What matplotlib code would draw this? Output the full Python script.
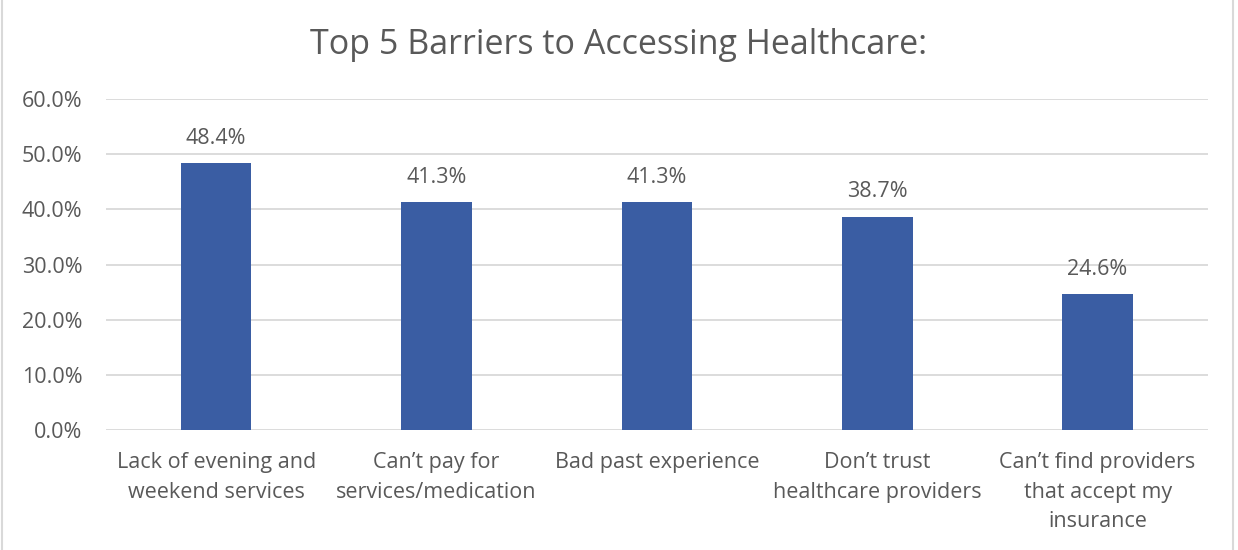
import matplotlib.pyplot as plt
from matplotlib.patches import Rectangle
from matplotlib.ticker import FuncFormatter
import numpy as np

categories = ["Lack of evening and\nweekend services",
              "Can\u2019t pay for\nservices/medication",
              "Bad past experience",
              "Don\u2019t trust\nhealthcare providers",
              "Can\u2019t find providers\nthat accept my\ninsurance"]
values = [48.4, 41.3, 41.3, 38.7, 24.6]
yticks = [0, 10, 20, 30, 40, 50, 60]

plt.rcParams['font.family'] = ['Open Sans', 'DejaVu Sans']
text_color = '#595959'

fig = plt.figure(figsize=(12.38, 5.5), dpi=100)
ax = fig.add_axes([0.0856, 0.218, 0.89, 0.602])

x = np.arange(len(values))
ax.bar(x, values, width=0.32, color='#3A5DA3', zorder=3)
for xi, v in zip(x, values):
    ax.text(xi, v + 4.5, "{:.1f}%".format(v), ha='center', va='center',
            fontsize=15.5, color=text_color)

ax.set_xlim(-0.5, len(values) - 0.5)
ax.set_ylim(0, 60)
ax.set_yticks(yticks)
ax.yaxis.set_major_formatter(FuncFormatter(lambda v, p: "{:.1f}%".format(v)))
ax.set_xticks(x)
ax.set_xticklabels(categories, fontsize=15.5, color=text_color, linespacing=1.52)
ax.tick_params(axis='y', labelsize=15.5, colors=text_color, length=0, pad=17)
ax.tick_params(axis='x', length=0, pad=16)
ax.grid(axis='y', color='#D9D9D9', linewidth=1.3, zorder=0)
for s in ax.spines.values():
    s.set_visible(False)

fig.text(0.5, 0.918, "Top 5 Barriers to Accessing Healthcare:", ha='center',
         va='center', fontsize=24.5, color=text_color)

# cadre gris autour du graphique
fig.patches.append(Rectangle((0.002, -0.01), 0.994, 1.02, transform=fig.transFigure,
                             fill=False, edgecolor='#D9D9D9', linewidth=1.5))

fig.savefig("out.png", dpi=100)
